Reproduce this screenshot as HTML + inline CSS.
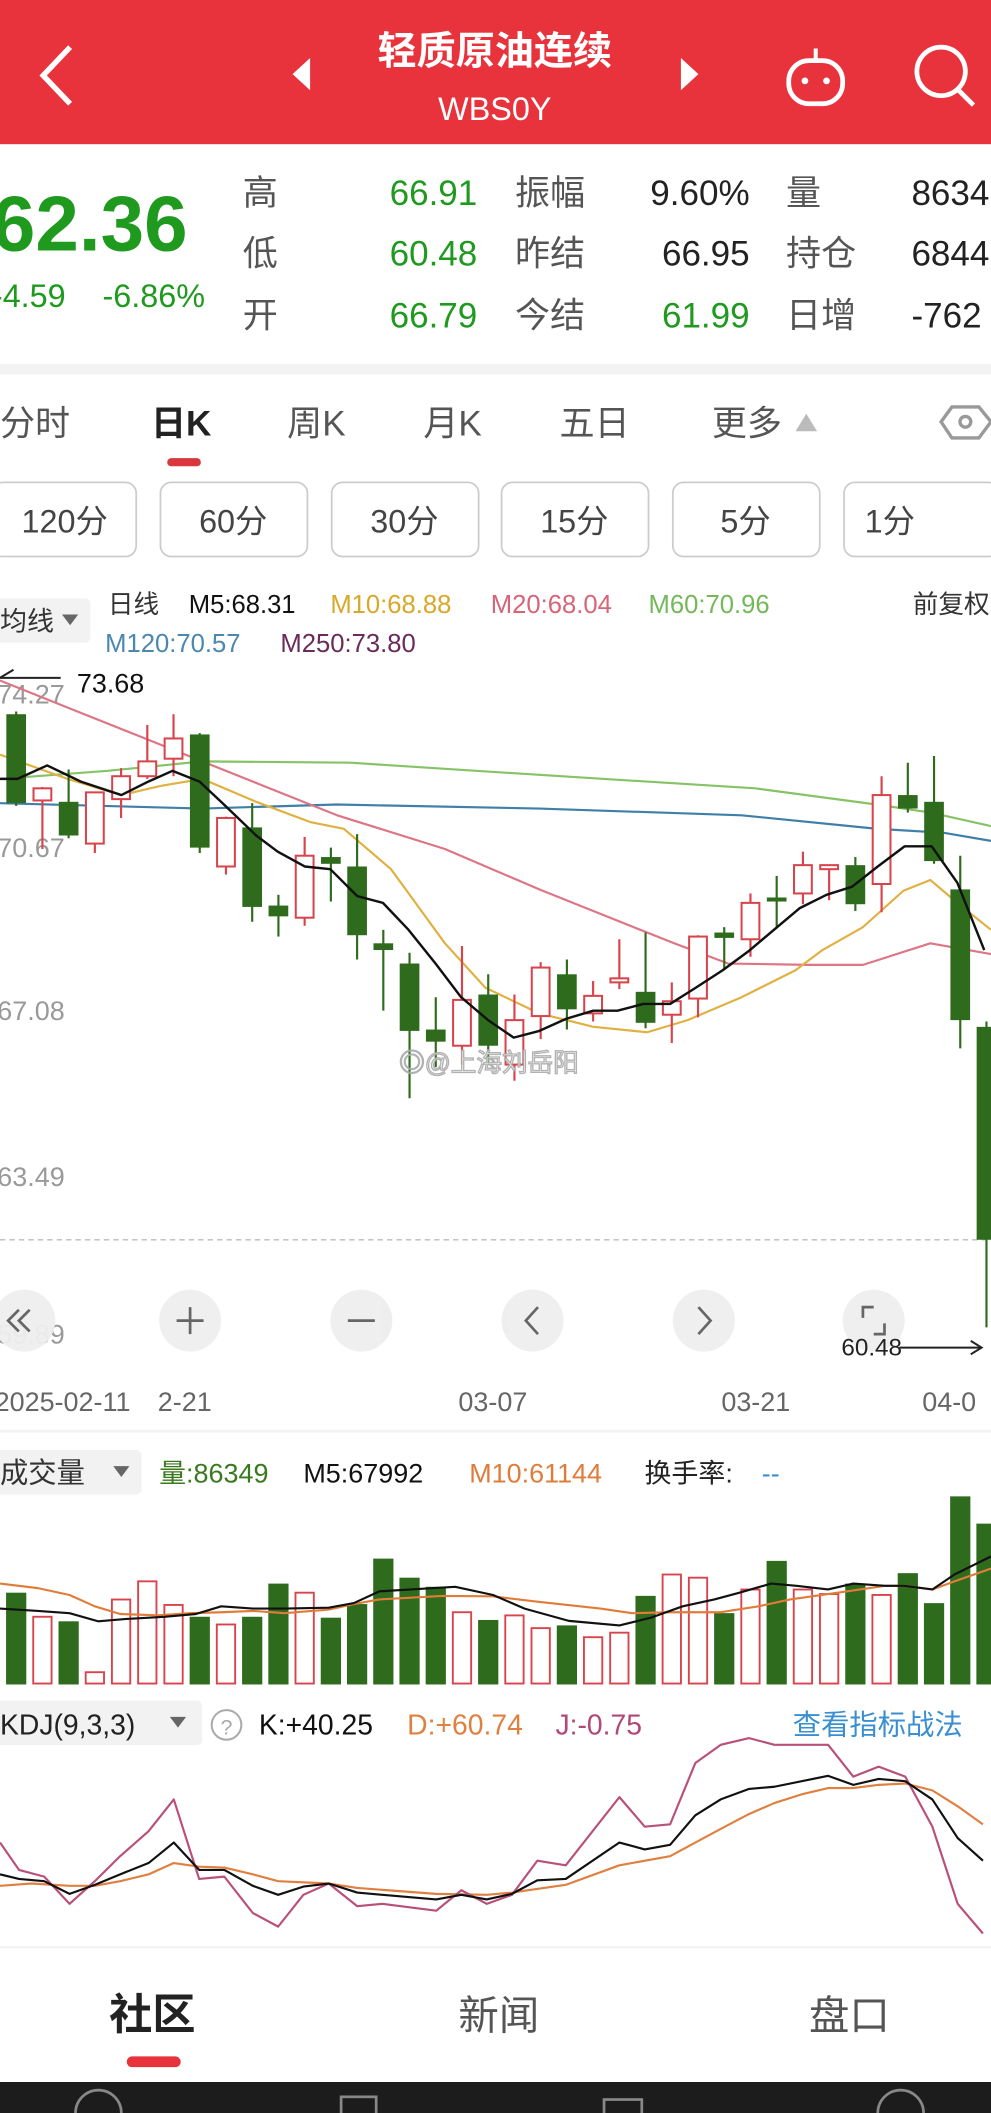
<!DOCTYPE html>
<html><head><meta charset="utf-8">
<style>
html,body{margin:0;padding:0;background:#fff;}
svg{display:block;font-family:"Liberation Sans","Noto Sans CJK SC",sans-serif;}
</style></head>
<body>
<svg id="s" xmlns="http://www.w3.org/2000/svg" width="991" height="2113" viewBox="0 0 735 1568" preserveAspectRatio="none">
<rect width="735" height="1568" fill="#fff"/>
<!-- header -->
<rect width="735" height="107" fill="#e8333c"/>
<polyline points="52,35 32,56 52,77" fill="none" stroke="#fff" stroke-width="4"/>
<polygon points="230,43 230,67 217,55" fill="#fff"/>
<polygon points="505,43 505,67 518,55" fill="#fff"/>
<text x="367" y="48" fill="#fff" font-size="29" font-weight="bold" text-anchor="middle">轻质原油连续</text>
<text x="367" y="89" fill="#fff" font-size="24" text-anchor="middle">WBS0Y</text>
<rect x="585" y="45" width="40" height="32" rx="15" fill="none" stroke="#fff" stroke-width="3.5"/>
<line x1="605" y1="45" x2="605" y2="36" stroke="#fff" stroke-width="3"/>
<circle cx="597" cy="60" r="2.5" fill="#fff"/><circle cx="613" cy="60" r="2.5" fill="#fff"/>
<circle cx="698" cy="53" r="18" fill="none" stroke="#fff" stroke-width="3.5"/>
<line x1="710" y1="66" x2="722" y2="78" stroke="#fff" stroke-width="3.5"/>
<!-- quote -->
<text x="-6" y="186" fill="#1f9a1f" font-size="58" font-weight="bold">62.36</text>
<text x="-6" y="228" fill="#1f9a1f" font-size="24">-4.59</text>
<text x="76" y="228" fill="#1f9a1f" font-size="24">-6.86%</text>
<g font-size="26" fill="#555">
<text x="180" y="152">高</text><text x="180" y="197">低</text><text x="180" y="243">开</text>
<text x="382" y="152">振幅</text><text x="382" y="197">昨结</text><text x="382" y="243">今结</text>
<text x="583" y="152">量</text><text x="583" y="197">持仓</text><text x="583" y="243">日增</text>
</g>
<g font-size="26" text-anchor="end">
<text x="354" y="152" fill="#1f9a1f">66.91</text><text x="354" y="197" fill="#1f9a1f">60.48</text><text x="354" y="243" fill="#1f9a1f">66.79</text>
<text x="556" y="152" fill="#222">9.60%</text><text x="556" y="197" fill="#222">66.95</text><text x="556" y="243" fill="#1f9a1f">61.99</text>
</g>
<g font-size="26" fill="#222">
<text x="676" y="152">8634</text><text x="676" y="197">6844</text><text x="676" y="243">-762</text>
</g>
<rect y="270" width="735" height="8" fill="#f3f3f3"/>
<!-- tabs -->
<g font-size="26" fill="#555">
<text x="0" y="323">分时</text>
<text x="112" y="323" fill="#222" font-weight="bold">日K</text>
<text x="213" y="323">周K</text><text x="314" y="323">月K</text><text x="415" y="323">五日</text><text x="528" y="323">更多</text>
</g>
<polygon points="590,320 606,320 598,307" fill="#bbb"/>
<polygon points="706,302 726,302 735,313 726,325 706,325 698,313" fill="none" stroke="#999" stroke-width="2.5"/>
<circle cx="716" cy="313" r="4" fill="none" stroke="#999" stroke-width="2.5"/>
<rect x="124" y="340" width="25" height="6" rx="3" fill="#d9363e"/>
<g fill="#fff" stroke="#ccc" stroke-width="1.3">
<rect x="-6" y="358" width="107" height="55" rx="8"/><rect x="119" y="358" width="109" height="55" rx="8"/>
<rect x="246" y="358" width="109" height="55" rx="8"/><rect x="372" y="358" width="109" height="55" rx="8"/>
<rect x="499" y="358" width="109" height="55" rx="8"/><rect x="626" y="358" width="115" height="55" rx="8"/>
</g>
<g font-size="24" fill="#444" text-anchor="middle">
<text x="48" y="395">120分</text><text x="173" y="395">60分</text><text x="300" y="395">30分</text>
<text x="426" y="395">15分</text><text x="553" y="395">5分</text><text x="660" y="395">1分</text>
</g>
<!-- MA legend -->
<rect x="-5" y="444" width="72" height="33" rx="4" fill="#f2f2f2"/>
<text x="0" y="468" font-size="20" fill="#333">均线</text>
<polygon points="46,456 58,456 52,464" fill="#666"/>
<g font-size="19">
<text x="80" y="455" fill="#333">日线</text>
<text x="140" y="455" fill="#111">M5:68.31</text>
<text x="245" y="455" fill="#d9a828">M10:68.88</text>
<text x="364" y="455" fill="#d86478">M20:68.04</text>
<text x="481" y="455" fill="#74b85a">M60:70.96</text>
<text x="677" y="455" fill="#333">前复权</text>
<text x="78" y="484" fill="#4a88b0">M120:70.57</text>
<text x="208" y="484" fill="#6a2a5a">M250:73.80</text>
</g>
<!-- y labels -->
<g font-size="20" fill="#999">
<text x="-2" y="522">74.27</text><text x="-2" y="636">70.67</text><text x="-2" y="757">67.08</text>
<text x="-2" y="880">63.49</text><text x="-2" y="997">59.89</text>
</g>
<line x1="0" y1="503" x2="45" y2="503" stroke="#222" stroke-width="1.5"/>
<line x1="0" y1="503" x2="10" y2="497" stroke="#222" stroke-width="1.5"/>
<text x="57" y="514" font-size="20" fill="#111">73.68</text>
<line x1="0" y1="920" x2="735" y2="920" stroke="#bbb" stroke-width="1" stroke-dasharray="4,3"/>
<g id="chart"></g>
<!-- watermark -->
<text x="296" y="795" font-size="19" fill="#fff" stroke="#aaa" stroke-width="1" opacity="0.9">◎@上海刘岳阳</text>
<!-- nav buttons -->
<g fill="#eee" opacity="0.95">
<circle cx="18" cy="980" r="23"/><circle cx="141" cy="980" r="23"/><circle cx="268" cy="980" r="23"/>
<circle cx="395" cy="980" r="23"/><circle cx="522" cy="980" r="23"/><circle cx="648" cy="980" r="23"/>
</g>
<g stroke="#666" stroke-width="2" fill="none">
<polyline points="14,972 6,980 14,988"/><polyline points="22,972 14,980 22,988"/>
<line x1="131" y1="980" x2="151" y2="980"/><line x1="141" y1="970" x2="141" y2="990"/>
<line x1="258" y1="980" x2="278" y2="980"/>
<polyline points="399,970 390,980 399,990"/><polyline points="518,970 527,980 518,990"/>
<polyline points="640,978 640,970 648,970"/><polyline points="648,990 656,990 656,982"/>
</g>
<text x="624" y="1006" font-size="18" fill="#222">60.48</text>
<line x1="667" y1="1000" x2="728" y2="1000" stroke="#222" stroke-width="1.5"/>
<polyline points="720,995 728,1000 720,1005" fill="none" stroke="#222" stroke-width="1.5"/>
<!-- dates -->
<g font-size="20" fill="#666">
<text x="-4" y="1047">2025-02-11</text><text x="117" y="1047">2-21</text>
<text x="340" y="1047">03-07</text><text x="535" y="1047">03-21</text><text x="684" y="1047">04-0</text>
</g>
<line x1="0" y1="1062" x2="735" y2="1062" stroke="#f2f2f2" stroke-width="2"/>
<!-- volume header -->
<rect x="-5" y="1076" width="110" height="33" rx="4" fill="#f2f2f2"/>
<text x="0" y="1100" font-size="21" fill="#333">成交量</text>
<polygon points="84,1088 96,1088 90,1096" fill="#666"/>
<g font-size="20">
<text x="118" y="1100" fill="#3a7a1e">量:86349</text>
<text x="225" y="1100" fill="#111">M5:67992</text>
<text x="348" y="1100" fill="#e07c3a">M10:61144</text>
<text x="478" y="1100" fill="#222">换手率:</text>
<text x="565" y="1100" fill="#3a8fd0">--</text>
</g>
<!-- KDJ header -->
<rect x="-5" y="1262" width="155" height="33" rx="4" fill="#f2f2f2"/>
<text x="0" y="1287" font-size="21" fill="#222">KDJ(9,3,3)</text>
<polygon points="126,1274 138,1274 132,1282" fill="#666"/>
<circle cx="168" cy="1280" r="11" fill="none" stroke="#aaa" stroke-width="1.5"/>
<text x="168" y="1287" font-size="16" fill="#aaa" text-anchor="middle">?</text>
<g font-size="21">
<text x="192" y="1287" fill="#111">K:+40.25</text>
<text x="302" y="1287" fill="#e08040">D:+60.74</text>
<text x="412" y="1287" fill="#b04878">J:-0.75</text>
<text x="588" y="1287" fill="#3a8fd0">查看指标战法</text>
</g>
<!-- bottom tabs -->
<line x1="0" y1="1445" x2="735" y2="1445" stroke="#f4f4f4" stroke-width="2"/>
<text x="113" y="1506" font-size="32" font-weight="bold" fill="#222" text-anchor="middle">社区</text>
<text x="370" y="1506" font-size="30" fill="#555" text-anchor="middle">新闻</text>
<text x="630" y="1506" font-size="30" fill="#555" text-anchor="middle">盘口</text>
<rect x="94" y="1526" width="40" height="8" rx="4" fill="#e8333c"/>
<rect x="0" y="1545" width="735" height="23" fill="#1c1c1c"/>
<g stroke="#888" stroke-width="2" fill="none">
<circle cx="73" cy="1568" r="17"/><rect x="253" y="1556" width="26" height="20"/><rect x="448" y="1558" width="28" height="18"/><circle cx="668" cy="1568" r="17"/>
</g>
</svg>
<script>
(function(){
var NS='http://www.w3.org/2000/svg',g=document.getElementById('chart');
function el(t,a){var e=document.createElementNS(NS,t);for(var k in a)e.setAttribute(k,a[k]);g.appendChild(e);return e;}
function cx(i){return 12+19.45*i;}
var G='#2e6b1c',R='#d8444c';
// volume bars
var vol=[['g',425],['h',478],['g',488],['h',600],['h',440],['h',400],['h',452],['g',478],['h',495],['g',478],['g',405],['h',425],['g',480],['g',450],['g',350],['g',392],['g',412],['h',468],['g',485],['h',475],['h',503],['g',497],['h',523],['h',513],['g',432],['h',385],['h',392],['g',470],['h',418],['g',355],['h',418],['h',428],['g',405],['h',430],['g',382],['g',448],['g',213],['g',273]];
function vy(z){return 1038.6+z/2.966;}
vol.forEach(function(v,i){var t=vy(v[1]),x=cx(i)-7.5;
 if(v[0]=='g')el('rect',{x:x,y:t,width:15,height:1250-t,fill:G});
 else el('rect',{x:x+0.7,y:t,width:13.6,height:1249.3-t,fill:'#fff',stroke:R,'stroke-width':1.4});});
function zl(pts,col,w){var s=pts.map(function(p){return (p[0]/2.133).toFixed(1)+','+vy(p[1]).toFixed(1);}).join(' ');
 el('polyline',{points:s,fill:'none',stroke:col,'stroke-width':w||1.6,'stroke-linejoin':'round'});}
zl([[0,405],[60,415],[110,430],[150,455],[190,472],[250,475],[300,470],[350,468],[400,465],[450,470],[520,462],[560,450],[600,440],[700,432],[780,433],[850,445],[950,460],[1000,470],[1060,468],[1140,468],[1200,455],[1250,440],[1310,428],[1350,420],[1400,410],[1430,410],[1475,418],[1510,400],[1568,372]],'#e07c3a');
zl([[0,460],[60,465],[110,470],[155,488],[200,483],[260,478],[310,472],[350,455],[400,460],[450,460],[520,458],[560,448],[600,422],[650,418],[720,412],[780,430],[830,460],[900,487],[980,497],[1030,480],[1080,455],[1130,440],[1170,425],[1220,405],[1260,410],[1310,418],[1350,405],[1400,410],[1430,410],[1475,418],[1510,385],[1568,345]],'#111');
// KDJ
zl([[0,1070],[50,1065],[110,1070],[150,1070],[190,1060],[235,1045],[275,1020],[315,1028],[355,1030],[400,1045],[440,1060],[520,1065],[565,1075],[690,1088],[770,1090],[810,1085],[895,1068],[980,1025],[1060,1005],[1100,975],[1140,945],[1185,912],[1225,888],[1270,868],[1310,855],[1350,855],[1390,848],[1432,845],[1475,860],[1515,895],[1555,935]],'#e08040');
zl([[0,975],[30,1035],[70,1050],[110,1110],[150,1060],[190,1005],[235,950],[275,880],[315,1055],[355,1050],[400,1130],[440,1160],[480,1090],[520,1065],[565,1115],[605,1110],[690,1125],[730,1080],[770,1110],[810,1090],[850,1015],[895,1025],[980,875],[1020,940],[1060,935],[1100,800],[1140,760],[1185,745],[1225,760],[1310,760],[1350,830],[1390,808],[1432,830],[1475,940],[1515,1110],[1555,1175]],'#b8507a');
zl([[0,1045],[30,1055],[70,1060],[110,1088],[150,1068],[190,1045],[235,1020],[275,975],[315,1035],[355,1035],[400,1070],[440,1090],[480,1072],[520,1065],[565,1085],[605,1090],[690,1100],[730,1090],[770,1100],[810,1088],[850,1058],[895,1055],[980,975],[1020,990],[1060,980],[1100,915],[1140,880],[1185,857],[1225,852],[1310,828],[1350,848],[1390,835],[1432,840],[1475,880],[1515,965],[1555,1015]],'#111');
// MA lines (display coords)
function pl(pts,col,w){el('polyline',{points:pts,fill:'none',stroke:col,'stroke-width':w||1.6,'stroke-linejoin':'round'});}
pl('0,578 80,572 150,565 260,566 400,575 560,585 650,597 690,603 735,613','#86c266');
pl('0,596 150,600 250,597 400,600 550,605 650,615 700,618 735,624','#3f7fa8');
pl('0,505 50,525 100,545 150,565 200,585 250,605 330,630 400,660 450,680 500,700 540,715 600,716 640,716 690,700 735,708','#dd7585');
pl('0,560 50,578 90,590 120,583 150,578 190,595 230,610 255,615 290,645 330,700 360,733 400,752 440,762 480,766 510,757 550,740 590,720 610,705 640,688 670,661 690,653 710,670 735,690','#e0b040');
// candles
var C=[[-1,'r',528,559,520,570],[0,'g',530,596,528,598],[1,'r',585,594,584,630],[2,'g',595,620,571,622],[3,'r',588,626,588,633],[4,'r',576,593,570,607],[5,'r',565,576,538,578],[6,'r',548,563,530,576],[7,'g',545,629,544,633],[8,'r',607,643,606,649],[9,'g',614,673,596,684],[10,'g',672,680,664,695],[11,'r',635,681,621,687],[12,'g',636,641,629,669],[13,'g',643,694,619,712],[14,'g',700,705,690,750],[15,'g',715,765,707,815],[16,'g',764,773,740,792],[17,'r',742,776,702,790],[18,'g',738,776,723,790],[19,'r',757,790,738,802],[20,'r',718,754,714,771],[21,'g',723,749,712,764],[22,'r',739,752,728,758],[23,'r',726,729,697,734],[24,'g',736,759,692,763],[25,'r',743,753,729,774],[26,'r',695,741,694,755],[27,'g',692,696,688,719],[28,'r',670,697,663,710],[29,'g',666,669,650,689],[30,'r',642,663,632,671],[31,'r',642,645,642,668],[32,'g',642,671,636,676],[33,'r',590,656,576,677],[34,'g',590,600,566,603],[35,'g',595,639,561,641],[36,'g',660,757,635,778],[37,'g',762,920,758,985]];
C.forEach(function(c){var x=cx(c[0]),col=c[1]=='g'?G:R;
 el('line',{x1:x,y1:c[4],x2:x,y2:c[5],stroke:col,'stroke-width':1.6});
 var h=Math.max(c[3]-c[2],2.5);
 if(c[1]=='g')el('rect',{x:x-7.3,y:c[2],width:14.6,height:h,fill:G});
 else el('rect',{x:x-6.6,y:c[2],width:13.2,height:h,fill:'#fff',stroke:R,'stroke-width':1.5});});
pl('0,578 13,578 35,568 60,580 90,590 110,580 128,572 148,580 165,596 190,620 206,632 226,643 245,645 265,665 284,670 303,690 323,715 342,740 362,757 381,770 400,765 420,756 440,750 458,750 477,745 497,745 516,733 536,720 555,706 574,690 593,674 613,664 632,658 651,643 671,628 691,628 710,655 730,705','#111',1.8);
})();
</script>
</body></html>
